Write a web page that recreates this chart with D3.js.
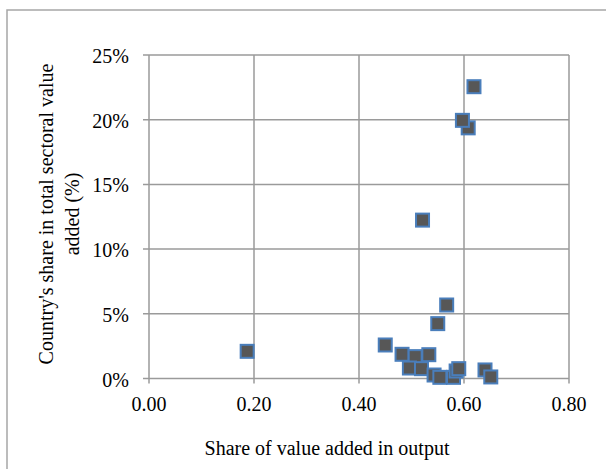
<!DOCTYPE html>
<html>
<head>
<meta charset="utf-8">
<script src="https://cdn.jsdelivr.net/npm/d3@7"></script>
<style>
  html, body { margin: 0; padding: 0; background: #fff; }
  svg { display: block; }
  text { font-family: "Liberation Serif", "Times New Roman", serif; fill: #000; }
</style>
</head>
<body>
<svg id="chart" width="606" height="469"></svg>
<script>
// Data: share of value added in output (x) vs country's share in total sectoral value added (y, %)
const shareVA = [0.187, 0.450, 0.482, 0.507, 0.533, 0.496, 0.519, 0.543, 0.554, 0.580,
                 0.585, 0.590, 0.640, 0.651, 0.550, 0.567, 0.521, 0.608, 0.597, 0.619];
const countryShare = [2.1, 2.59, 1.87, 1.69, 1.84, 0.81, 0.76, 0.27, 0.09, 0.09,
                      0.58, 0.76, 0.66, 0.12, 4.24, 5.68, 12.24, 19.37, 19.95, 22.55];
const xTicks = [0, 0.2, 0.4, 0.6, 0.8];
const yTicks = [0, 5, 10, 15, 20, 25];
const xTitle = "Share of value added in output";
const yTitleLines = ["Country's share in total sectoral value", "added (%)"];

const svg = d3.select("#chart");

// outer frame
svg.append("rect")
  .attr("x", 7).attr("y", 10).attr("width", 640).attr("height", 500)
  .attr("fill", "none").attr("stroke", "#a6a6a6").attr("stroke-width", 1.5);

const x = d3.scaleLinear().domain([0, 0.8]).range([149, 569]);
const y = d3.scaleLinear().domain([0, 25]).range([378.5, 55]);

const gridColor = "#9a9a9a";
const fs = 20;

// gridlines
svg.append("g").selectAll("line").data(xTicks).join("line")
  .attr("x1", d => x(d)).attr("x2", d => x(d))
  .attr("y1", y(25)).attr("y2", y(0) + 5)
  .attr("stroke", gridColor).attr("stroke-width", 1.5);
svg.append("g").selectAll("line").data(yTicks).join("line")
  .attr("x1", x(0) - 6).attr("x2", x(0.8))
  .attr("y1", d => y(d)).attr("y2", d => y(d))
  .attr("stroke", gridColor).attr("stroke-width", 1.5);

// tick labels
svg.append("g").selectAll("text").data(xTicks).join("text")
  .attr("x", d => x(d)).attr("y", y(0) + 25)
  .attr("text-anchor", "middle").attr("dominant-baseline", "central")
  .attr("font-size", fs)
  .text(d => d3.format(".2f")(d));
svg.append("g").selectAll("text").data(yTicks).join("text")
  .attr("x", x(0) - 20).attr("y", d => y(d) + 1)
  .attr("text-anchor", "end").attr("dominant-baseline", "central")
  .attr("font-size", fs)
  .text(d => d + "%");

// axis titles
svg.append("text")
  .attr("x", 327).attr("y", 448)
  .attr("text-anchor", "middle").attr("dominant-baseline", "central")
  .attr("font-size", fs)
  .text(xTitle);

const yt = svg.append("g").attr("transform", "translate(0,214) rotate(-90)");
yt.selectAll("text").data(yTitleLines).join("text")
  .attr("x", 0).attr("y", (d, i) => 46 + i * 26)
  .attr("text-anchor", "middle").attr("dominant-baseline", "central")
  .attr("font-size", fs)
  .text(d => d);

// markers
const pts = shareVA.map((v, i) => ({ x: v, y: countryShare[i] }));
const s = 13;
svg.append("g").selectAll("rect").data(pts).join("rect")
  .attr("x", d => x(d.x) - s / 2).attr("y", d => y(d.y) - s / 2)
  .attr("width", s).attr("height", s)
  .attr("fill", "#575757").attr("stroke", "#4a7ebb").attr("stroke-width", 2);
</script>
</body>
</html>
